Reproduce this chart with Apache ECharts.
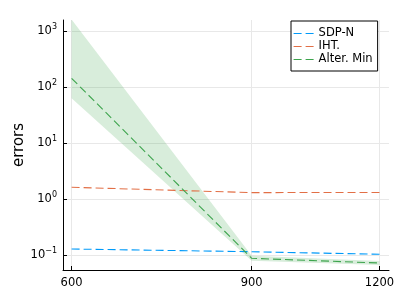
<!DOCTYPE html>
<html><head><meta charset="utf-8">
<script src="https://cdn.jsdelivr.net/npm/echarts@6/dist/echarts.min.js"></script>
<style>html,body{margin:0;padding:0;background:#fff}#c{width:400px;height:300px}</style>
</head><body><div id="c"></div>
<script>
const xValues = [600, 900, 1200];
const sdpN = [0.128, 0.1145, 0.103];
const iht = [1.62, 1.30, 1.31];
const alterMin = [143, 0.0873, 0.072];
const alterMinLower = [62.8, 0.079, 0.066];
const alterMinUpper = [1600, 0.097, 0.078];
const xTicks = [600, 900, 1200];
const yTicks = [0.1, 1, 10, 100, 1000];
const seriesNames = ['SDP-N', 'IHT.', 'Alter. Min'];
const colors = ['#009AF9', '#E26F46', '#3DA44D'];

const FONT = 'DejaVu Sans';
const pairs = arr => arr.map((v, i) => [xValues[i], v]);
const dash = [8, 4];

function dashedLine(name, data, color, z) {
  return {
    name, type: 'line', data: pairs(data), symbol: 'none', z,
    lineStyle: { color, width: 1.1, type: dash },
    itemStyle: { color },
    emphasis: { disabled: true }
  };
}

const bandData = xValues.map((x, i) => [x, alterMinLower[i], alterMinUpper[i]]);

const chart = echarts.init(document.getElementById('c'), null, { renderer: 'canvas' });
chart.setOption({
  animation: false,
  backgroundColor: '#fff',
  grid: { left: 63, right: 11, top: 20, bottom: 30, containLabel: false, outerBoundsMode: 'none' },
  xAxis: {
    type: 'log', logBase: 10, min: 588.5, max: 1226,
    axisLine: { show: true, lineStyle: { color: '#000', width: 1 } },
    axisTick: { show: true, inside: true, length: 4, lineStyle: { color: '#000' }, customValues: xTicks },
    axisLabel: { customValues: xTicks, margin: 7, fontSize: 11.5, fontFamily: FONT, color: '#000',
      formatter: v => String(Math.round(v)) },
    splitLine: { show: true, lineStyle: { color: '#e8e8e8', width: 1 } },
    minorTick: { show: false }, minorSplitLine: { show: false }
  },
  yAxis: {
    type: 'log', logBase: 10, min: 0.054, max: 1570,
    name: 'errors', nameLocation: 'middle', nameGap: 36, nameRotate: 90, nameMoveOverlap: false,
    nameTextStyle: { fontSize: 15, fontFamily: FONT, color: '#000' },
    axisLine: { show: true, lineStyle: { color: '#000', width: 1 } },
    axisTick: { show: true, inside: true, length: 4, lineStyle: { color: '#000' }, customValues: yTicks },
    axisLabel: {
      customValues: yTicks, margin: 6, fontFamily: FONT, color: '#000',
      formatter: v => {
        const e = Math.round(Math.log10(v));
        return '{b|10}{s|' + (e < 0 ? '\u2212' + (-e) : e) + '}';
      },
      rich: {
        b: { fontSize: 11.5, fontFamily: FONT, color: '#000', lineHeight: 16 },
        s: { fontSize: 8, fontFamily: FONT, color: '#000', verticalAlign: 'top', lineHeight: 8 }
      }
    },
    splitLine: { show: true, lineStyle: { color: '#e8e8e8', width: 1 } }
  },
  legend: {
    data: seriesNames, orient: 'vertical', left: 291, top: 21,
    backgroundColor: '#fff', borderColor: '#000', borderWidth: 1, borderRadius: 0,
    padding: [6, 5, 5, 2], itemGap: 0, itemWidth: 20, itemHeight: 11,
    itemStyle: { opacity: 0 },
    lineStyle: { type: [8, 4], width: 1.2 },
    textStyle: { fontSize: 11.5, fontFamily: FONT, color: '#000', lineHeight: 13 },
    selectedMode: false
  },
  series: [
    {
      name: 'band', type: 'custom', data: bandData, clip: true, silent: true, z: 1,
      encode: { x: 0, y: [1, 2] },
      renderItem: (params, api) => {
        if (params.dataIndex !== 0) return null;
        const pts = [];
        bandData.forEach(d => pts.push(api.coord([d[0], d[2]])));
        for (let i = bandData.length - 1; i >= 0; i--) pts.push(api.coord([bandData[i][0], bandData[i][1]]));
        return { type: 'polygon', shape: { points: pts }, style: { fill: colors[2], opacity: 0.2 } };
      }
    },
    dashedLine(seriesNames[0], sdpN, colors[0], 2),
    dashedLine(seriesNames[1], iht, colors[1], 2),
    dashedLine(seriesNames[2], alterMin, colors[2], 3)
  ]
});
</script></body></html>
